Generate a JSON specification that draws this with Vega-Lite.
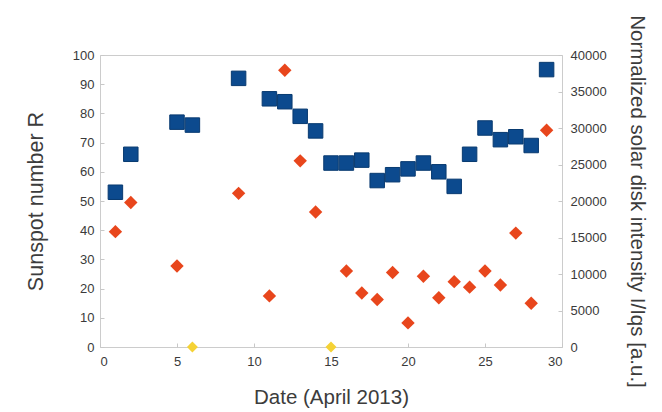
{
  "$schema": "https://vega.github.io/schema/vega-lite/v6.json",
  "width": 462,
  "height": 292,
  "autosize": "none",
  "padding": {"left": 100, "top": 55, "right": 100, "bottom": 65},
  "background": "white",
  "config": {
    "view": {"stroke": "#cccccc", "strokeWidth": 1},
    "font": "Liberation Sans",
    "axis": {
      "domain": false,
      "grid": false,
      "ticks": true,
      "tickSize": -4,
      "tickColor": "#c8c8c8",
      "labelFont": "Liberation Sans",
      "labelFontSize": 13,
      "labelColor": "#3a3a3a",
      "titleFont": "Liberation Sans",
      "titleFontSize": 20.5,
      "titleFontWeight": "normal",
      "titleColor": "#3c3c3c"
    }
  },
  "data": {
    "values": [
      {"day": 1, "series": "R", "value": 53},
      {"day": 2, "series": "R", "value": 66},
      {"day": 5, "series": "R", "value": 77},
      {"day": 6, "series": "R", "value": 76},
      {"day": 9, "series": "R", "value": 92},
      {"day": 11, "series": "R", "value": 85},
      {"day": 12, "series": "R", "value": 84},
      {"day": 13, "series": "R", "value": 79},
      {"day": 14, "series": "R", "value": 74},
      {"day": 15, "series": "R", "value": 63},
      {"day": 16, "series": "R", "value": 63},
      {"day": 17, "series": "R", "value": 64},
      {"day": 18, "series": "R", "value": 57},
      {"day": 19, "series": "R", "value": 59},
      {"day": 20, "series": "R", "value": 61},
      {"day": 21, "series": "R", "value": 63},
      {"day": 22, "series": "R", "value": 60},
      {"day": 23, "series": "R", "value": 55},
      {"day": 24, "series": "R", "value": 66},
      {"day": 25, "series": "R", "value": 75},
      {"day": 26, "series": "R", "value": 71},
      {"day": 27, "series": "R", "value": 72},
      {"day": 28, "series": "R", "value": 69},
      {"day": 29, "series": "R", "value": 95},
      {"day": 1, "series": "I", "value": 15800},
      {"day": 2, "series": "I", "value": 19800},
      {"day": 5, "series": "I", "value": 11100},
      {"day": 6, "series": "I0", "value": 0},
      {"day": 9, "series": "I", "value": 21050},
      {"day": 11, "series": "I", "value": 7000},
      {"day": 12, "series": "I", "value": 37900},
      {"day": 13, "series": "I", "value": 25500},
      {"day": 14, "series": "I", "value": 18500},
      {"day": 15, "series": "I0", "value": 0},
      {"day": 16, "series": "I", "value": 10400},
      {"day": 17, "series": "I", "value": 7400},
      {"day": 18, "series": "I", "value": 6500},
      {"day": 19, "series": "I", "value": 10200},
      {"day": 20, "series": "I", "value": 3300},
      {"day": 21, "series": "I", "value": 9700},
      {"day": 22, "series": "I", "value": 6750},
      {"day": 23, "series": "I", "value": 8950},
      {"day": 24, "series": "I", "value": 8200},
      {"day": 25, "series": "I", "value": 10400},
      {"day": 26, "series": "I", "value": 8500},
      {"day": 27, "series": "I", "value": 15600},
      {"day": 28, "series": "I", "value": 6000},
      {"day": 29, "series": "I", "value": 29700}
    ]
  },
  "encoding": {
    "x": {
      "field": "day",
      "type": "quantitative",
      "scale": {"domain": [0, 30], "nice": false},
      "axis": {"title": "Date (April 2013)", "values": [0, 5, 10, 15, 20, 25, 30], "labelPadding": 12, "titlePadding": 19}
    }
  },
  "layer": [
    {
      "transform": [{"filter": "datum.series == 'R'"}],
      "mark": {"type": "point", "shape": "square", "filled": true, "opacity": 1, "size": 210, "color": "#0c4a8e", "stroke": "#083a70", "strokeWidth": 1, "clip": false},
      "encoding": {
        "y": {
          "field": "value",
          "type": "quantitative",
          "scale": {"domain": [0, 100], "nice": false},
          "axis": {"orient": "left", "title": "Sunspot number R", "titleFontSize": 21.5, "values": [0, 10, 20, 30, 40, 50, 60, 70, 80, 90, 100], "labelPadding": 10, "titlePadding": 25}
        }
      }
    },
    {
      "transform": [{"filter": "datum.series != 'R'"}],
      "mark": {"type": "point", "shape": "diamond", "filled": true, "opacity": 1, "clip": false},
      "encoding": {
        "y": {
          "field": "value",
          "type": "quantitative",
          "scale": {"domain": [0, 40000], "nice": false},
          "axis": {"orient": "right", "title": "Normalized solar disk intensity I/Iqs [a.u.]", "titleFontSize": 20.5, "format": "d", "values": [0, 5000, 10000, 15000, 20000, 25000, 30000, 35000, 40000], "labelPadding": 12, "titlePadding": 20}
        },
        "color": {"field": "series", "type": "nominal", "scale": {"domain": ["I", "I0"], "range": ["#e8461c", "#f5d235"]}, "legend": null},
        "size": {"field": "series", "type": "ordinal", "scale": {"domain": ["I", "I0"], "range": [180, 120]}, "legend": null}
      }
    }
  ],
  "resolve": {"scale": {"y": "independent"}}
}
